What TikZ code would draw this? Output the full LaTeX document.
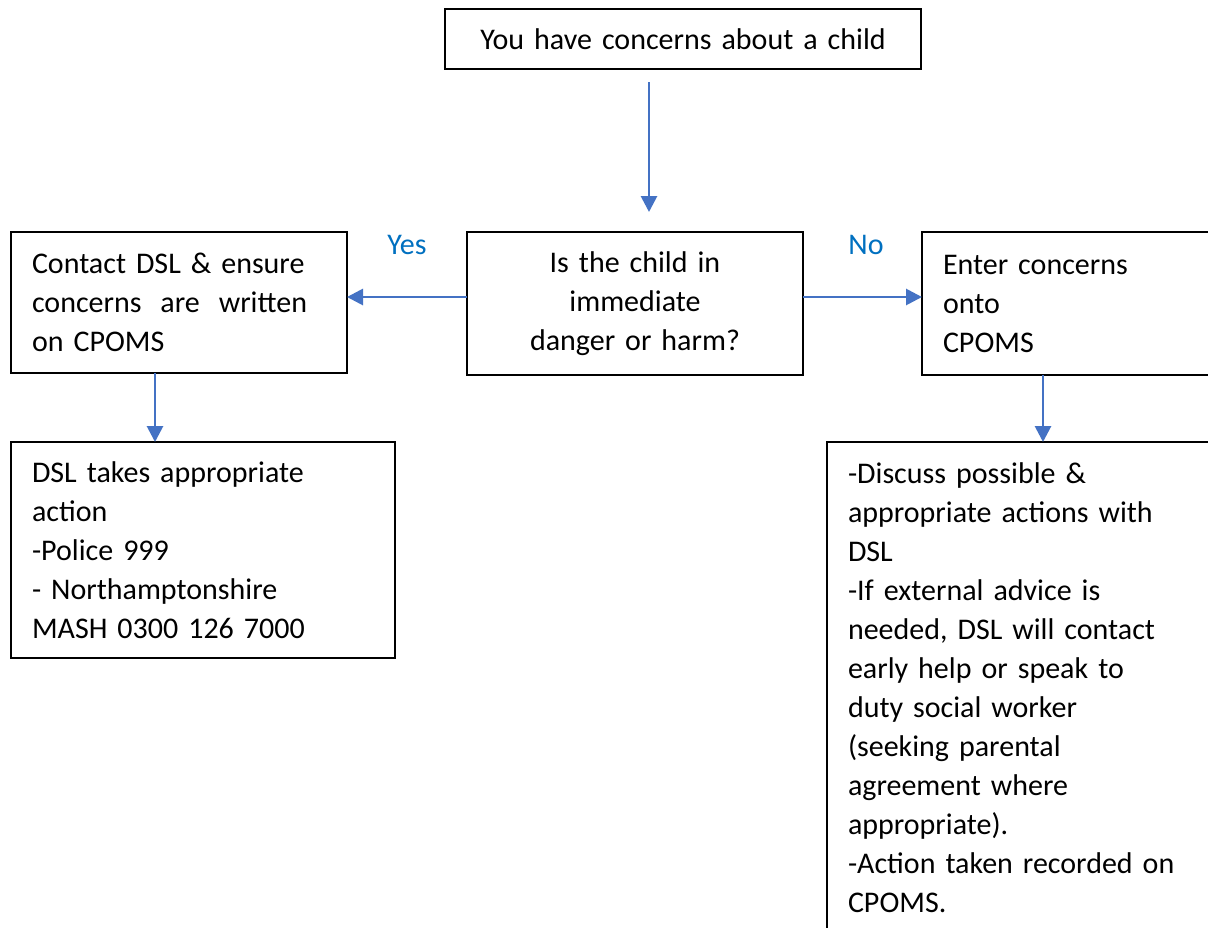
\documentclass[tikz,border=0pt]{standalone}
\usepackage{fontspec}
\setmainfont{Carlito}
\usetikzlibrary{arrows.meta}
\definecolor{arrowblue}{HTML}{4472C4}
\definecolor{labelblue}{HTML}{0070C0}
\newcommand{\boxfont}{\fontsize{30}{39}\selectfont\spaceskip=0.226em plus 0.05em minus 0.05em\relax}
\begin{document}
\begin{tikzpicture}[x=1pt,y=-1pt,
  box/.style={draw=black,line width=1.8pt,inner xsep=21pt,inner ysep=0pt,outer sep=0pt,
    font=\boxfont},
  flow/.style={draw=arrowblue,line width=2.8pt,-{Triangle[length=16pt,width=16pt]}},
  lbl/.style={text=labelblue,font=\boxfont,inner sep=0pt}]
\useasboundingbox (0,0) rectangle (1208,927);
\fill[white] (0,0) rectangle (1208,927);

\node[box,minimum width=476pt,minimum height=60pt,text width=434pt,align=center] (top) at (683,39)
  {You have concerns about a child};
\node[box,minimum width=336pt,minimum height=143pt,text width=294pt,align=center] (mid) at (635,303.5)
  {Is the child in\\immediate\\danger or harm?};
\node[box,minimum width=336pt,minimum height=141pt,text width=294pt,align=left] (left) at (179,302.5)
  {Contact DSL \& ensure\\\leavevmode\makebox[275pt][l]{concerns\hfill are\hfill written}\\on CPOMS};
\node[box,minimum width=308pt,minimum height=143pt,text width=266pt,align=left] (right) at (1076,303.5)
  {Enter concerns\\onto\\CPOMS};
\node[box,minimum width=384pt,minimum height=216pt,text width=342pt,align=left] (bl) at (203,550)
  {DSL takes appropriate\\action\\-Police 999\\- Northamptonshire\\MASH 0300 126 7000};
\node[box,minimum width=413pt,minimum height=492pt,text width=371pt,align=left] (br) at (1033.5,688)
  {-Discuss possible \&\\appropriate actions with\\DSL\\-If external advice is\\needed, DSL will contact\\early help or speak to\\duty social worker\\(seeking parental\\agreement where\\appropriate).\\-Action taken recorded on\\CPOMS.};

\node[lbl] (yes) at (407,245) {Yes};
\node[lbl] (no) at (866,245) {No};

\coordinate (t1) at (649,82);
\coordinate (t2) at (649,212);
\coordinate (cl) at (155,0);
\coordinate (cr) at (1043,0);
\coordinate (hy) at (0,297);

\draw[flow] (t1) -- (t2);
\draw[flow] (mid.west |- hy) -- (left.east |- hy);
\draw[flow] (mid.east |- hy) -- (right.west |- hy);
\draw[flow] (left.south -| cl) -- (bl.north -| cl);
\draw[flow] (right.south -| cr) -- (br.north -| cr);
\end{tikzpicture}
\end{document}
